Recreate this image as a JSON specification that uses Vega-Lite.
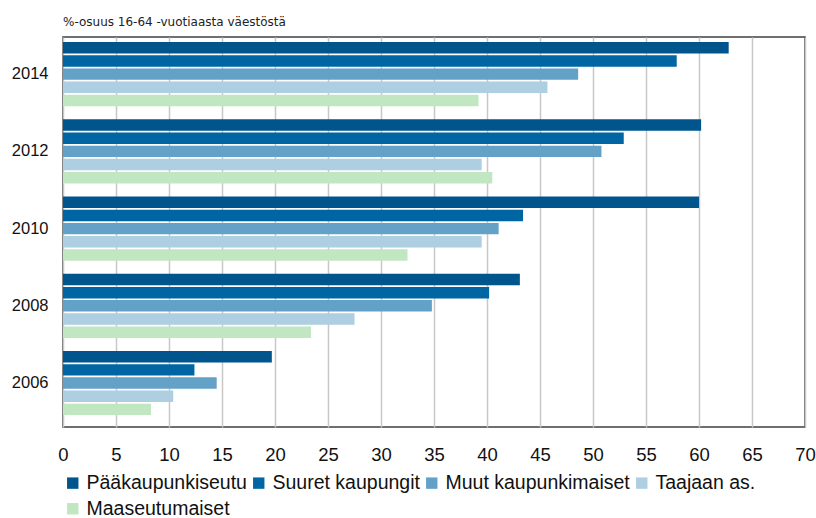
{
  "$schema": "https://vega.github.io/schema/vega-lite/v6.json",
  "width": 742,
  "height": 390,
  "autosize": {"type": "none"},
  "padding": {"left": 63, "top": 37, "right": 11, "bottom": 91},
  "background": "white",
  "title": {
    "text": "%-osuus 16-64 -vuotiaasta väestöstä",
    "anchor": "start",
    "frame": "group",
    "font": "DejaVu Sans",
    "fontSize": 12,
    "fontWeight": "normal",
    "color": "#222222",
    "offset": 8
  },
  "data": {
    "values": [
      {"year": "2014", "region": "Pääkaupunkiseutu", "value": 62.8},
      {"year": "2014", "region": "Suuret kaupungit", "value": 57.9},
      {"year": "2014", "region": "Muut kaupunkimaiset", "value": 48.6},
      {"year": "2014", "region": "Taajaan as.", "value": 45.7},
      {"year": "2014", "region": "Maaseutumaiset", "value": 39.2},
      {"year": "2012", "region": "Pääkaupunkiseutu", "value": 60.2},
      {"year": "2012", "region": "Suuret kaupungit", "value": 52.9},
      {"year": "2012", "region": "Muut kaupunkimaiset", "value": 50.8},
      {"year": "2012", "region": "Taajaan as.", "value": 39.5},
      {"year": "2012", "region": "Maaseutumaiset", "value": 40.5},
      {"year": "2010", "region": "Pääkaupunkiseutu", "value": 60.0},
      {"year": "2010", "region": "Suuret kaupungit", "value": 43.4},
      {"year": "2010", "region": "Muut kaupunkimaiset", "value": 41.1},
      {"year": "2010", "region": "Taajaan as.", "value": 39.5},
      {"year": "2010", "region": "Maaseutumaiset", "value": 32.5},
      {"year": "2008", "region": "Pääkaupunkiseutu", "value": 43.1},
      {"year": "2008", "region": "Suuret kaupungit", "value": 40.2},
      {"year": "2008", "region": "Muut kaupunkimaiset", "value": 34.8},
      {"year": "2008", "region": "Taajaan as.", "value": 27.5},
      {"year": "2008", "region": "Maaseutumaiset", "value": 23.4},
      {"year": "2006", "region": "Pääkaupunkiseutu", "value": 19.7},
      {"year": "2006", "region": "Suuret kaupungit", "value": 12.4},
      {"year": "2006", "region": "Muut kaupunkimaiset", "value": 14.5},
      {"year": "2006", "region": "Taajaan as.", "value": 10.4},
      {"year": "2006", "region": "Maaseutumaiset", "value": 8.3}
    ]
  },
  "mark": {"type": "bar"},
  "encoding": {
    "y": {
      "field": "year",
      "type": "nominal",
      "sort": "descending",
      "scale": {"paddingInner": 0.17, "paddingOuter": 0.11, "align": 0.3},
      "axis": {
        "title": null,
        "ticks": false,
        "domain": false,
        "labelPadding": 15,
        "labelFont": "Liberation Sans",
        "labelFontSize": 16.5,
        "labelColor": "#111111"
      }
    },
    "yOffset": {
      "field": "region",
      "type": "nominal",
      "sort": ["Pääkaupunkiseutu", "Suuret kaupungit", "Muut kaupunkimaiset", "Taajaan as.", "Maaseutumaiset"],
      "scale": {"paddingInner": 0.13, "paddingOuter": 0}
    },
    "x": {
      "field": "value",
      "type": "quantitative",
      "scale": {"domain": [0, 70], "nice": false},
      "axis": {
        "title": null,
        "values": [0, 5, 10, 15, 20, 25, 30, 35, 40, 45, 50, 55, 60, 65, 70],
        "grid": true,
        "gridColor": "#c8c8c8",
        "gridWidth": 1.5,
        "domain": false,
        "ticks": false,
        "labelPadding": 18,
        "labelFont": "Liberation Sans",
        "labelFontSize": 18.5,
        "labelColor": "#111111",
        "labelFlush": false
      }
    },
    "color": {
      "field": "region",
      "type": "nominal",
      "sort": ["Pääkaupunkiseutu", "Suuret kaupungit", "Muut kaupunkimaiset", "Taajaan as.", "Maaseutumaiset"],
      "scale": {
        "domain": ["Pääkaupunkiseutu", "Suuret kaupungit", "Muut kaupunkimaiset", "Taajaan as.", "Maaseutumaiset"],
        "range": ["#00558C", "#0066A3", "#63A1C7", "#AECEE1", "#C0E7C2"]
      },
      "legend": {
        "title": null,
        "orient": "bottom",
        "direction": "horizontal",
        "columns": 4,
        "symbolType": "square",
        "symbolSize": 130,
        "symbolStrokeWidth": 0,
        "labelFont": "Liberation Sans",
        "labelFontSize": 19.5,
        "labelColor": "#111111",
        "labelLimit": 400,
        "labelOffset": 4,
        "columnPadding": 2,
        "rowPadding": 5,
        "padding": 0,
        "offset": 9
      }
    }
  },
  "config": {
    "view": {"stroke": "#404040", "strokeWidth": 1.5}
  }
}
